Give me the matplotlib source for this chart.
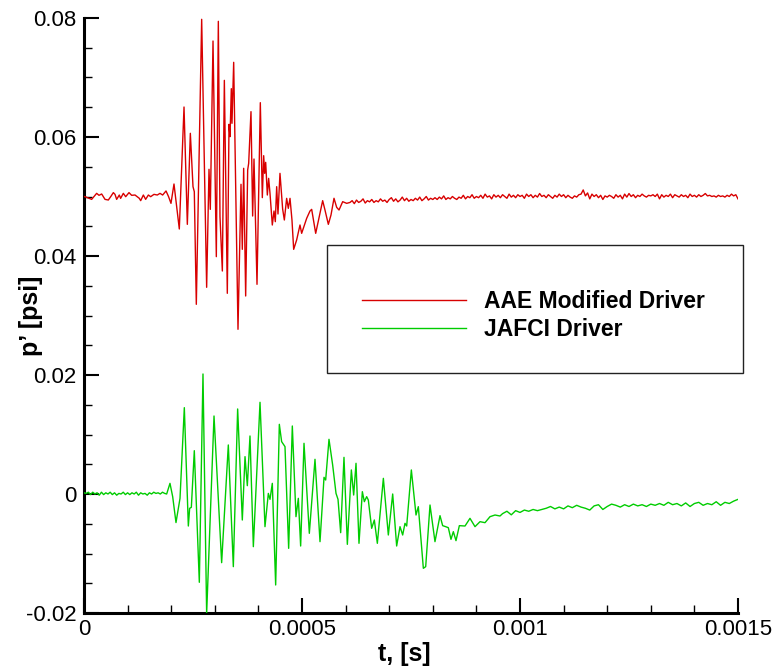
import numpy as np
import matplotlib
matplotlib.use("Agg")
import matplotlib.pyplot as plt
from matplotlib.ticker import MultipleLocator
from matplotlib.patches import Rectangle

plt.rcParams['font.family'] = ['Liberation Sans', 'DejaVu Sans']

# ---------------- data ----------------
series_names = ["AAE Modified Driver", "JAFCI Driver"]
series_colors = ["#d80000", "#00cc00"]

x_tick_values = [0, 0.0005, 0.001, 0.0015]
x_tick_labels = ["0", "0.0005", "0.001", "0.0015"]
y_tick_values = [-0.02, 0.0, 0.02, 0.04, 0.06, 0.08]
y_tick_labels = ["-0.02", "0", "0.02", "0.04", "0.06", "0.08"]

# red: quiet start + burst (explicit samples)
red_t = [0.0, 2.3e-6, 1.76e-5, 2.9e-5, 3.44e-5, 4.05e-5, 4.82e-5, 5.58e-5, 6.12e-5, 6.73e-5,
         7.11e-5, 7.49e-5, 8.1e-5, 8.4e-5, 9.02e-5, 9.56e-5, 1.032e-4, 1.093e-4, 1.17e-4,
         1.269e-4, 1.3e-4, 1.361e-4, 1.414e-4, 1.476e-4, 1.529e-4, 1.605e-4, 1.682e-4,
         1.743e-4, 1.804e-4, 1.881e-4, 1.94e-4, 1.995e-4, 2.064e-4, 2.186e-4, 2.294e-4,
         2.37e-4, 2.439e-4, 2.5e-4, 2.53e-4, 2.576e-4, 2.699e-4, 2.813e-4, 2.867e-4,
         2.897e-4, 2.959e-4, 3.035e-4, 3.081e-4, 3.119e-4, 3.173e-4, 3.219e-4, 3.287e-4,
         3.326e-4, 3.349e-4, 3.379e-4, 3.394e-4, 3.433e-4, 3.532e-4, 3.601e-4, 3.631e-4,
         3.662e-4, 3.708e-4, 3.754e-4, 3.777e-4, 3.83e-4, 3.868e-4, 3.899e-4, 3.968e-4,
         4.044e-4, 4.09e-4, 4.121e-4, 4.144e-4, 4.167e-4, 4.205e-4, 4.235e-4, 4.266e-4,
         4.319e-4, 4.358e-4, 4.388e-4, 4.419e-4, 4.449e-4, 4.495e-4, 4.556e-4, 4.595e-4,
         4.648e-4, 4.686e-4, 4.725e-4, 4.77e-4, 4.809e-4, 4.877e-4, 4.954e-4, 4.992e-4,
         5.107e-4, 5.183e-4, 5.222e-4, 5.314e-4, 5.413e-4, 5.474e-4, 5.527e-4, 5.604e-4,
         5.665e-4, 5.734e-4, 5.795e-4, 5.849e-4, 5.933e-4, 6.025e-4]
red_p = [0.0500, 0.04997, 0.04952, 0.05053, 0.0502, 0.05042, 0.04952, 0.04941, 0.04997, 0.05065,
         0.05036, 0.04952, 0.05025, 0.04969, 0.05053, 0.04997, 0.05065, 0.0502, 0.05025,
         0.04969, 0.0493, 0.05025, 0.04952, 0.05025, 0.04997, 0.05036, 0.05025,
         0.05053, 0.05025, 0.05093, 0.04997, 0.04885, 0.0521, 0.04454, 0.06504,
         0.04532, 0.06062, 0.05165, 0.05081, 0.03188, 0.07978, 0.03474, 0.05457,
         0.04784, 0.07613, 0.03989, 0.07944, 0.04661, 0.03748, 0.06952, 0.03373,
         0.06213, 0.06006, 0.06812, 0.0623, 0.07255, 0.02768, 0.05205, 0.04112,
         0.05474, 0.03328, 0.05446, 0.05558, 0.06426, 0.04672, 0.0563, 0.03524,
         0.06577, 0.04981, 0.05686, 0.05389, 0.05574, 0.05025, 0.05305, 0.05053,
         0.04521, 0.04756, 0.04577, 0.05165, 0.04706, 0.05389, 0.0479, 0.04605,
         0.04969, 0.04801, 0.04969, 0.04605, 0.04112, 0.04269, 0.04521, 0.04381,
         0.04633, 0.04756, 0.04784, 0.04381, 0.04717, 0.0493, 0.04773, 0.04532,
         0.04689, 0.0497, 0.04818, 0.04773, 0.04913, 0.04885]

# red: settled tail, sampled every 5 us from 0.00061 s to 0.0015 s
red_tail_start, red_tail_end = 0.00061, 0.0015
red_tail_p = [
    0.0490, 0.0493, 0.0488, 0.0494, 0.0490, 0.0492, 0.0496, 0.0489, 0.0493, 0.0491,
    0.0495, 0.0490, 0.0493, 0.0491, 0.0496, 0.0492, 0.0494, 0.0490, 0.0495, 0.0498,
    0.0492, 0.0496, 0.0491, 0.0494, 0.0499, 0.0493, 0.0497, 0.0492, 0.0495, 0.0493,
    0.0497, 0.0494, 0.0499, 0.0493, 0.0496, 0.0500, 0.0494, 0.0497, 0.0495, 0.0498,
    0.0495, 0.0499, 0.0496, 0.0501, 0.0495, 0.0498, 0.0496, 0.0500, 0.0497, 0.0495,
    0.0499, 0.0497, 0.0502, 0.0496, 0.0500, 0.0498, 0.0503, 0.0497, 0.0500, 0.0498,
    0.0502, 0.0497, 0.0504, 0.0499, 0.0501, 0.0496, 0.0503, 0.0499, 0.0502, 0.0498,
    0.0503, 0.0500, 0.0497, 0.0504, 0.0499, 0.0502, 0.0498, 0.0503, 0.0500, 0.0502,
    0.0497, 0.0504, 0.0500, 0.0503, 0.0498, 0.0502, 0.0499, 0.0505, 0.0500, 0.0502,
    0.0498, 0.0503, 0.0500, 0.0497, 0.0502, 0.0499, 0.0504, 0.0500, 0.0503, 0.0498,
    0.0502, 0.0499, 0.0497, 0.0501, 0.0499, 0.0503, 0.0504, 0.0511, 0.0501, 0.0506,
    0.0496, 0.0504, 0.0500, 0.0503, 0.0498, 0.0502, 0.0495, 0.0501, 0.0499, 0.0502,
    0.0500, 0.0497, 0.0503, 0.0499, 0.0502, 0.0496, 0.0504, 0.0499, 0.0505, 0.0500,
    0.0503, 0.0498, 0.0502, 0.0500, 0.0504, 0.0501, 0.0499, 0.0502, 0.0501, 0.0503,
    0.0500, 0.0504, 0.0496, 0.0503, 0.0499, 0.0502, 0.0500, 0.0504, 0.0498, 0.0503,
    0.0501, 0.0499, 0.0503, 0.0500, 0.0502, 0.0498, 0.0504, 0.0500, 0.0502, 0.0499,
    0.0503, 0.0500, 0.0502, 0.0505, 0.0501, 0.0502, 0.0500, 0.0501, 0.0499, 0.0502,
    0.0500, 0.0501, 0.0499, 0.0502, 0.0500, 0.0504, 0.0501, 0.0503, 0.0496]

# green: quiet start, sampled every 5 us from 0 to 0.000185 s
green_head_start, green_head_end = 0.0, 0.000185
green_head_p = [
    0.0002, 0.0001, 0.0003, -0.0001, 0.0003, 0.0000, 0.0002, -0.0002, 0.0003, -0.0001,
    0.0002, 0.0000, 0.0003, -0.0001, 0.0002, -0.0002, 0.0001, 0.0000, 0.0003, -0.0001,
    0.0002, -0.0001, 0.0002, 0.0000, 0.0003, -0.0002, 0.0002, 0.0000, 0.0001, -0.0002,
    0.0002, 0.0000, 0.0003, 0.0001, 0.0002, 0.0000, 0.0003, 0.0001]

# green: burst (explicit samples)
green_t = [1.896e-4, 1.972e-4, 2.034e-4, 2.11e-4, 2.202e-4, 2.301e-4, 2.393e-4, 2.423e-4,
           2.462e-4, 2.53e-4, 2.645e-4, 2.729e-4, 2.813e-4, 2.982e-4, 3.157e-4, 3.31e-4,
           3.425e-4, 3.524e-4, 3.631e-4, 3.693e-4, 3.746e-4, 3.807e-4, 3.884e-4, 4.037e-4,
           4.151e-4, 4.228e-4, 4.266e-4, 4.319e-4, 4.396e-4, 4.48e-4, 4.533e-4, 4.61e-4,
           4.694e-4, 4.778e-4, 4.862e-4, 4.916e-4, 4.969e-4, 5.046e-4, 5.168e-4, 5.298e-4,
           5.413e-4, 5.505e-4, 5.543e-4, 5.619e-4, 5.703e-4, 5.78e-4, 5.826e-4, 5.887e-4,
           5.963e-4, 6.04e-4, 6.132e-4, 6.185e-4, 6.239e-4, 6.307e-4, 6.384e-4, 6.43e-4,
           6.483e-4, 6.521e-4, 6.598e-4, 6.659e-4, 6.728e-4, 6.866e-4, 6.98e-4, 7.08e-4,
           7.171e-4, 7.248e-4, 7.309e-4, 7.362e-4, 7.401e-4, 7.508e-4, 7.615e-4, 7.668e-4,
           7.783e-4, 7.837e-4, 7.936e-4, 8.05e-4, 8.165e-4, 8.226e-4, 8.295e-4, 8.356e-4,
           8.417e-4, 8.471e-4, 8.532e-4, 8.609e-4, 8.739e-4, 8.853e-4, 8.968e-4, 9.083e-4,
           9.197e-4, 9.312e-4, 9.427e-4, 9.541e-4]
green_p = [0.0000, 0.00179, -0.00045, -0.0048, -0.00073, 0.01451, -0.00538, -0.00241,
           -0.00224, 0.00728, -0.01484, 0.02017, -0.0201, 0.01311, -0.01154, 0.00824,
           -0.01221, 0.01429, -0.00437, 0.00628, 0.00140, 0.00975, -0.00885, 0.01541,
           -0.00549, 0.0001, -0.0009, 0.00179, -0.01529, 0.01171, 0.00880, 0.00796,
           -0.00913, 0.01143, -0.00381, -0.00073, -0.00874, 0.00852, -0.00661, 0.00583,
           -0.00801, 0.00280, 0.00235, 0.00919, 0.00488, 0.00011, -0.0009, -0.00650,
           0.00616, -0.00846, 0.00404, -0.00017, 0.00516, -0.00829, 0.00039, -0.00129,
           -0.00045, -0.00101, -0.00577, -0.00437, -0.00829, 0.00263, -0.00689, 0.00000,
           -0.00874, -0.00549, -0.00689, -0.00493, -0.00538, 0.00404, -0.00353, -0.00213,
           -0.01249, -0.01221, -0.00185, -0.00801, -0.00364, -0.00532, -0.00549, -0.00566,
           -0.00762, -0.00633, -0.00784, -0.00532, -0.00538, -0.00409, -0.00549, -0.00465,
           -0.00482, -0.00381, -0.00353, -0.00370]

# green: settled tail, sampled every 10 us from 0.00096 s to 0.0015 s
green_tail_start, green_tail_end = 0.00096, 0.0015
green_tail_p = [
    -0.0033, -0.0029, -0.0035, -0.0028, -0.0031, -0.0027, -0.0029, -0.0026, -0.0028, -0.0026,
    -0.0024, -0.0021, -0.0025, -0.0022, -0.0025, -0.0020, -0.0023, -0.0019, -0.0022, -0.0024,
    -0.0027, -0.0020, -0.0018, -0.0026, -0.0021, -0.0017, -0.0019, -0.0022, -0.0018, -0.0021,
    -0.0017, -0.0020, -0.0018, -0.0021, -0.0017, -0.0019, -0.0016, -0.0019, -0.0014, -0.0018,
    -0.0016, -0.0020, -0.0015, -0.0021, -0.0016, -0.0014, -0.0019, -0.0016, -0.0018, -0.0013,
    -0.0019, -0.0014, -0.0016, -0.0012, -0.0009]

# ---------------- assemble ----------------
red_tail_t = np.linspace(red_tail_start, red_tail_end, len(red_tail_p))
green_head_t = np.linspace(green_head_start, green_head_end, len(green_head_p))
green_tail_t = np.linspace(green_tail_start, green_tail_end, len(green_tail_p))

red_all_t = np.concatenate([red_t, red_tail_t])
red_all_p = np.concatenate([red_p, red_tail_p])
green_all_t = np.concatenate([green_head_t, green_t, green_tail_t])
green_all_p = np.concatenate([green_head_p, green_p, green_tail_p])

# ---------------- figure ----------------
W, H = 776, 670
fig = plt.figure(figsize=(W / 100, H / 100), dpi=100)
ax = fig.add_axes([84 / W, 1 - 613 / H, (738 - 84) / W, (613 - 18) / H])

l1, = ax.plot(red_all_t, red_all_p, color=series_colors[0], lw=1.0, zorder=3)
l2, = ax.plot(green_all_t, green_all_p, color=series_colors[1], lw=1.0, zorder=3)

ax.set_xlim(0, 0.0015)
ax.set_ylim(-0.02, 0.08)
ax.set_xticks(x_tick_values)
ax.set_xticklabels(x_tick_labels)
ax.set_yticks(y_tick_values)
ax.set_yticklabels(y_tick_labels)
ax.xaxis.set_minor_locator(MultipleLocator(0.0001))
ax.yaxis.set_minor_locator(MultipleLocator(0.005))

for s in ['top', 'right']:
    ax.spines[s].set_visible(False)
for s in ['left', 'bottom']:
    ax.spines[s].set_linewidth(2.2)

ax.tick_params(which='major', direction='in', length=10.8, width=1.5,
               labelsize=16, pad=5.5, top=False, right=False)
ax.tick_params(which='minor', direction='in', length=5.8, width=1.0,
               top=False, right=False)
ax.tick_params(axis='x', which='major', pad=4.5)

ax.set_xlabel("t, [s]", fontsize=18, fontweight='bold')
ax.set_ylabel("p\u2019 [psi]", fontsize=18, fontweight='bold')
ax.xaxis.set_label_coords(0.49, -0.048)
ax.yaxis.set_label_coords(-0.062, 0.5)

# legend box
rect = Rectangle((327 / W, 1 - 373 / H), (743 - 327) / W, (373 - 245) / H,
                 transform=fig.transFigure, facecolor='white', edgecolor='#222222',
                 lw=1.0, clip_on=False, zorder=4)
ax.add_patch(rect)
leg = ax.legend([l1, l2], series_names, loc='center left',
                bbox_to_anchor=(361.5 / W, 1 - 315.5 / H), bbox_transform=fig.transFigure,
                frameon=False, handlelength=4.58, handletextpad=0.77, borderpad=0,
                borderaxespad=0, labelspacing=0.21,
                prop={'weight': 'bold', 'size': 16.5})
leg.set_zorder(5)

fig.savefig("out.png", dpi=100)
